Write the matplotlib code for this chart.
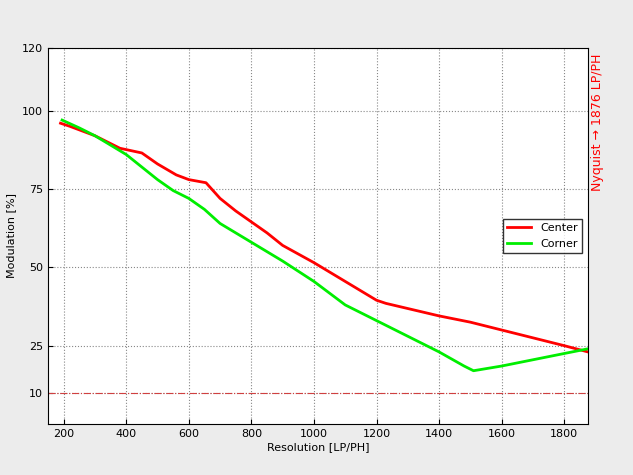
import matplotlib
matplotlib.use("Agg")
import matplotlib.pyplot as plt

center_x = [190, 220, 300, 380, 450, 500, 560, 600, 655, 700, 750, 850, 900, 1000, 1100, 1200, 1230, 1400, 1500, 1600, 1700, 1800, 1876]
center_y = [96, 95, 92, 88, 86.5, 83, 79.5, 78, 77, 72, 68, 61, 57, 51.5, 45.5, 39.5, 38.5, 34.5, 32.5, 30, 27.5, 25, 23]
corner_x = [195, 250, 300, 350, 400, 450, 500, 550, 600, 650, 700, 800, 900, 1000, 1100, 1200, 1300, 1400, 1480, 1510, 1600, 1700, 1800, 1876]
corner_y = [97, 94.5, 92, 89, 86, 82, 78, 74.5, 72, 68.5, 64, 58, 52, 45.5, 38, 33, 28, 23, 18.5, 17, 18.5, 20.5, 22.5, 24]
nyquist = 1876

fig = plt.figure(figsize=(6.33, 4.75), dpi=100, facecolor="#ececec")
ax = fig.add_axes([48 / 633, 1 - 424 / 475, (588 - 48) / 633, (424 - 48) / 475])
ax.plot(center_x, center_y, color="#ff0000", lw=2, label="Center")
ax.plot(corner_x, corner_y, color="#00ee00", lw=2, label="Corner")
ax.axhline(10, color="#d04040", lw=0.8, ls="-.")
ax.set_xlim(150, nyquist)
ax.set_ylim(0, 120)
ax.set_xticks(range(200, 1801, 200))
ax.set_yticks([10, 25, 50, 75, 100, 120])
ax.grid(True, ls=":", color="#888888", lw=0.8)
ax.tick_params(labelsize=8, direction="in")
ax.set_xlabel("Resolution [LP/PH]", fontsize=8, labelpad=2)
ax.set_ylabel("Modulation [%]", fontsize=8)
ax.legend(loc="center right", bbox_to_anchor=(1.0, 0.5), fontsize=8, frameon=True,
          fancybox=False, edgecolor="black", handlelength=2.2)
fig.text(598 / 633, 1 - 122 / 475, "Nyquist \u2192 1876 LP/PH", color="#ff0000",
         rotation=90, fontsize=9, ha="center", va="center")
fig.savefig("out.png", dpi=100, facecolor=fig.get_facecolor())
